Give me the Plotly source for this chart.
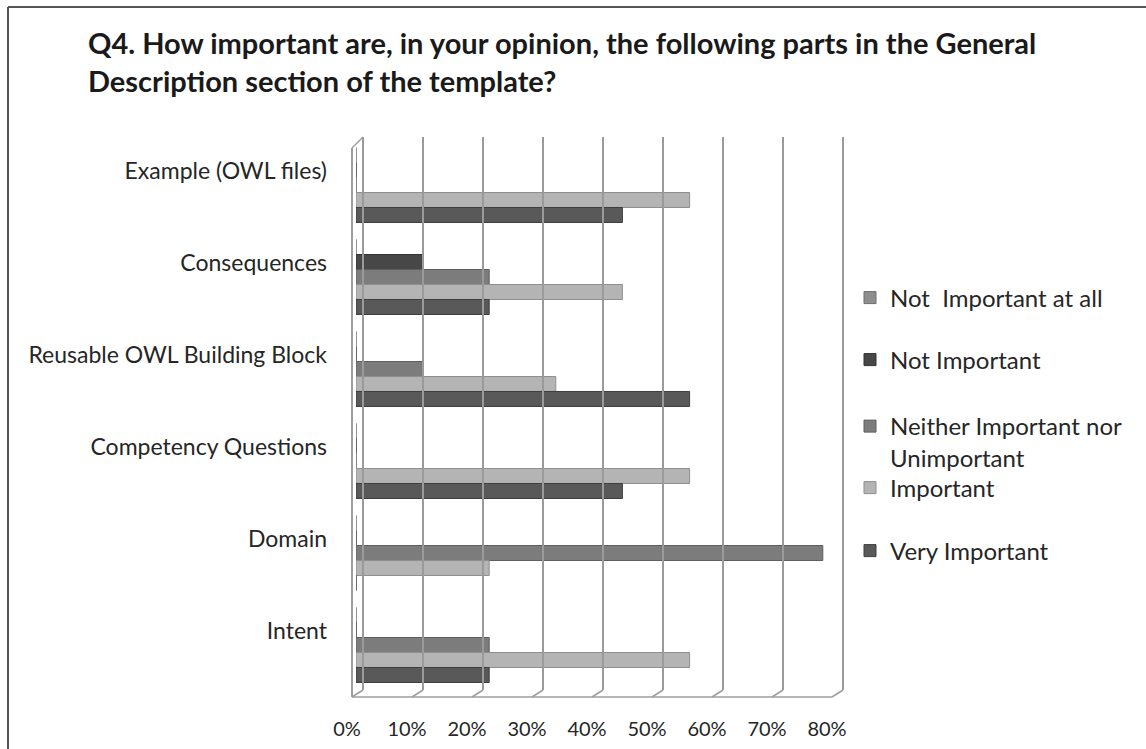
import plotly.graph_objects as go

# Survey results: share of respondents per answer, per template part (percent)
categories = [
    "Example (OWL files)",
    "Consequences",
    "Reusable OWL Building Block",
    "Competency Questions",
    "Domain",
    "Intent",
]
series_names = [
    "Not  Important at all",
    "Not Important",
    "Neither Important nor<br>Unimportant",
    "Important",
    "Very Important",
]
not_important_at_all = [0, 0, 0, 0, 0, 0]
not_important = [0, 11.1, 0, 0, 0, 0]
neither = [0, 22.2, 11.1, 0, 77.8, 22.2]
important = [55.6, 44.4, 33.3, 55.6, 22.2, 55.6]
very_important = [44.4, 22.2, 55.6, 44.4, 0, 22.2]
x_ticks = [0, 10, 20, 30, 40, 50, 60, 70, 80]

series_values = [not_important_at_all, not_important, neither, important, very_important]
fill_colors = ["#8e8e8e", "#474747", "#7c7c7c", "#b4b4b4", "#595959"]
edge_colors = ["#6e6e6e", "#333333", "#5e5e5e", "#8f8f8f", "#3e3e3e"]

# Canvas and plot-area geometry (pixels)
W, H = 1146, 749
ML, MR, MT, MB = 356, 310, 139, 58
PW, PH = W - ML - MR, H - MT - MB
XMAX = 80


def xp(v, off=0):
    """x-axis value plus a pixel offset, in paper units."""
    return v / XMAX + off / PW


def yp(off):
    """Pixel offset above the plot-area bottom, in paper units."""
    return off / PH


def px_x(px):
    """Absolute canvas x (pixels) to paper units."""
    return (px - ML) / PW


def px_y(py):
    """Absolute canvas y (pixels, top-down) to paper units."""
    return (H - MB - py) / PH


FONT = "Lato"
TEXT = "#262626"

fig = go.Figure()

legend_keys = ["legend", "legend2", "legend3", "legend4", "legend5"]
for name, vals, fc, ec, lk in zip(series_names, series_values, fill_colors, edge_colors, legend_keys):
    fig.add_trace(go.Bar(
        y=categories,
        x=vals,
        name=name,
        orientation="h",
        marker=dict(color=fc, line=dict(color=ec, width=1)),
        legend=lk,
        hoverinfo="skip",
    ))

shapes = []
grid_col = "#9a9a9a"
frame_col = "#9e9e9e"
top = 1 + yp(2)

# back-wall gridlines and floor depth ticks
for v in x_ticks:
    shapes.append(dict(type="line", xref="paper", yref="paper", layer="above",
                       x0=xp(v, 7), x1=xp(v, 7), y0=yp(1), y1=top,
                       line=dict(color=grid_col, width=2)))
    shapes.append(dict(type="line", xref="paper", yref="paper", layer="above",
                       x0=xp(v, 7), x1=xp(v, -4), y0=yp(1), y1=yp(-6),
                       line=dict(color=frame_col, width=1.5)))

# floor front edge
shapes.append(dict(type="line", xref="paper", yref="paper", layer="above",
                   x0=xp(0, -4), x1=xp(XMAX, -4), y0=yp(-6), y1=yp(-6),
                   line=dict(color=frame_col, width=1.5)))
# left wall front edge and top
shapes.append(dict(type="line", xref="paper", yref="paper", layer="above",
                   x0=xp(0, -4), x1=xp(0, -4), y0=yp(-6), y1=1 - yp(9),
                   line=dict(color=frame_col, width=2)))
shapes.append(dict(type="line", xref="paper", yref="paper", layer="above",
                   x0=xp(0, -4), x1=xp(0, 7), y0=1 - yp(9), y1=top,
                   line=dict(color=frame_col, width=1.5)))

# chart outer border (left and top edges)
shapes.append(dict(type="line", xref="paper", yref="paper",
                   x0=px_x(8), x1=px_x(8), y0=px_y(7), y1=px_y(760),
                   line=dict(color="#555555", width=2)))
shapes.append(dict(type="line", xref="paper", yref="paper",
                   x0=px_x(8), x1=px_x(1160), y0=px_y(7), y1=px_y(7),
                   line=dict(color="#555555", width=2)))

legend_centers = [298, 360, 442, 488, 551]
legend_layout = {}
for lk, cy in zip(legend_keys, legend_centers):
    legend_layout[lk] = dict(
        xref="container", yref="container",
        x=850 / W, y=1 - cy / H,
        xanchor="left", yanchor="middle",
        bgcolor="rgba(0,0,0,0)", borderwidth=0,
        font=dict(family=FONT, size=24, color=TEXT),
        valign="top",
        itemclick=False, itemdoubleclick=False,
    )

fig.update_layout(
    width=W, height=H,
    margin=dict(l=ML, r=MR, t=MT, b=MB, autoexpand=False),
    paper_bgcolor="white",
    plot_bgcolor="white",
    barmode="group",
    bargap=0.185,
    bargroupgap=0,
    showlegend=True,
    title=dict(
        text="Q4. How important are, in your opinion, the following parts in the General<br>Description section of the template?",
        x=88 / W, xanchor="left", xref="container",
        y=1 - 54 / H, yanchor="top", yref="container",
        font=dict(family=FONT, size=29, color="#1a1a1a", weight="bold"),
    ),
    xaxis=dict(
        range=[0, XMAX],
        tickvals=x_ticks,
        ticktext=[f"{v}%" for v in x_ticks],
        showgrid=False, zeroline=False, showline=False, automargin=False,
        ticks="", ticklabelshift=-9, ticklabelstandoff=24,
        tickfont=dict(family=FONT, size=20, color=TEXT),
        fixedrange=True,
    ),
    yaxis=dict(
        categoryorder="array", categoryarray=categories,
        autorange="reversed",
        showgrid=False, zeroline=False, showline=False, automargin=False,
        ticks="", ticklabelshift=14, ticklabelstandoff=28,
        tickfont=dict(family=FONT, size=23, color=TEXT),
        fixedrange=True,
    ),
    shapes=shapes,
    **legend_layout,
)

fig.write_html("out.html", config={"displayModeBar": False})
